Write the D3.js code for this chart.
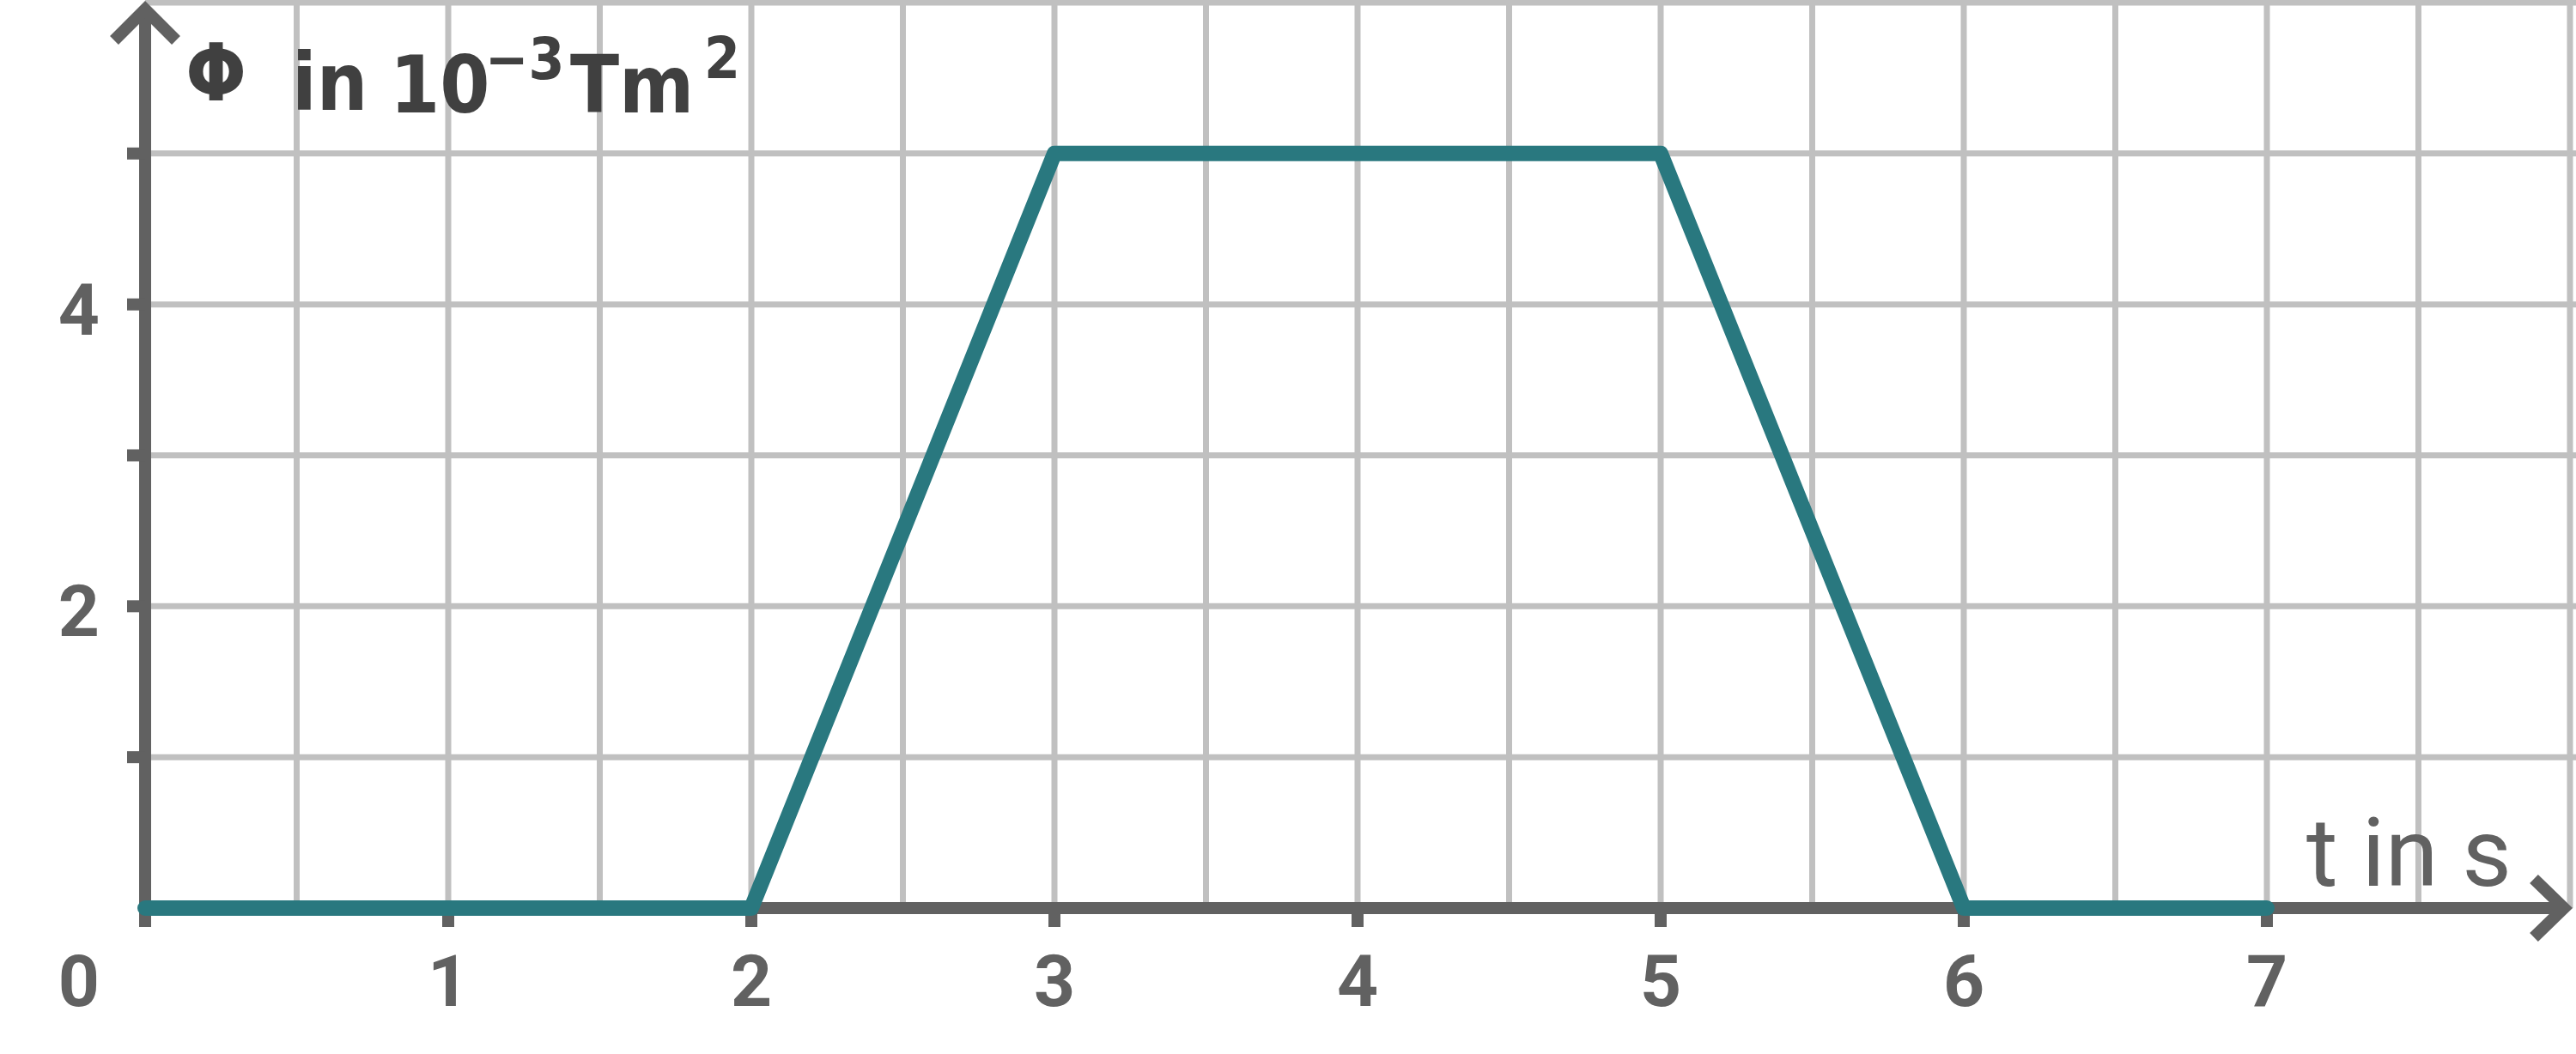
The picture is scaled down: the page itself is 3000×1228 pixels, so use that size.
<!DOCTYPE html>
<html>
<head>
<meta charset="utf-8">
<script src="https://cdn.jsdelivr.net/npm/d3@7"></script>
<style>
   html, body { margin: 0; padding: 0; background: #fff; }
   svg { display: block; }
</style>
</head>
<body>
<div id="chart"></div>
<script>
// flux over time
const tValues = [0, 2, 3, 5, 6, 7];
const phiValues = [0, 0, 5, 5, 0, 0];

const xTickValues = [1, 2, 3, 4, 5, 6, 7];
const xTickLabels = ['1', '2', '3', '4', '5', '6', '7'];
const yTickValues = [1, 2, 3, 4, 5];
const yTickLabels = ['', '2', '', '4', ''];
const originLabel = '0';
const xGridValues = d3.range(0.5, 8.01, 0.5);
const yGridValues = [1, 2, 3, 4, 5, 6];

const axisColor = '#616161';
const gridColor = '#c0c0c0';
const lineColor = '#29787f';

var width = 3000, height = 1228;

var svg = d3.select('#chart')
   .append('svg')
   .attr('width', width)
   .attr('height', height);

svg.append('rect')
   .attr('width', width)
   .attr('height', height)
   .attr('fill', '#fff');

var xScale = d3.scaleLinear()
   .domain([0, 8])
   .range([169, 2993]);

var yScale = d3.scaleLinear()
   .domain([0, 6])
   .range([1058, 3]);

// grid
svg.selectAll('line.vgrid')
   .data(xGridValues)
   .enter()
   .append('line')
   .attr('class', 'vgrid')
   .attr('x1', function (d) { return xScale(d); })
   .attr('x2', function (d) { return xScale(d); })
   .attr('y1', yScale(0))
   .attr('y2', 0)
   .attr('stroke', gridColor)
   .attr('stroke-width', 7);

svg.selectAll('line.hgrid')
   .data(yGridValues)
   .enter()
   .append('line')
   .attr('class', 'hgrid')
   .attr('x1', xScale(0))
   .attr('x2', width)
   .attr('y1', function (d) { return yScale(d); })
   .attr('y2', function (d) { return yScale(d); })
   .attr('stroke', gridColor)
   .attr('stroke-width', 7);

// axes
var axes = svg.append('g')
   .attr('stroke', axisColor)
   .attr('stroke-width', 14)
   .attr('fill', 'none');

axes.append('line')
   .attr('x1', xScale(0))
   .attr('x2', 2986)
   .attr('y1', yScale(0))
   .attr('y2', yScale(0));

axes.append('line')
   .attr('x1', xScale(0))
   .attr('x2', xScale(0))
   .attr('y1', yScale(0) + 22)
   .attr('y2', 14);

axes.append('path')
   .attr('d', 'M' + (xScale(0) - 36) + ',47L' + xScale(0) + ',11L' + (xScale(0) + 36) + ',47');

axes.append('path')
   .attr('d', 'M2951,' + (yScale(0) - 34) + 'L2986,' + yScale(0) + 'L2951,' + (yScale(0) + 34));

axes.selectAll('line.xtick')
   .data(xTickValues)
   .enter()
   .append('line')
   .attr('class', 'xtick')
   .attr('x1', function (d) { return xScale(d); })
   .attr('x2', function (d) { return xScale(d); })
   .attr('y1', yScale(0))
   .attr('y2', yScale(0) + 22);

axes.selectAll('line.ytick')
   .data(yTickValues)
   .enter()
   .append('line')
   .attr('class', 'ytick')
   .attr('x1', xScale(0))
   .attr('x2', xScale(0) - 21)
   .attr('y1', function (d) { return yScale(d); })
   .attr('y2', function (d) { return yScale(d); });

// the curve
var line = d3.line()
   .x(function (d) { return xScale(d[0]); })
   .y(function (d) { return yScale(d[1]); });

svg.append('path')
   .datum(d3.zip(tValues, phiValues))
   .attr('d', line)
   .attr('fill', 'none')
   .attr('stroke', lineColor)
   .attr('stroke-width', 18)
   .attr('stroke-linecap', 'round')
   .attr('stroke-linejoin', 'round');

// tick labels
var labels = svg.append('g')
   .attr('font-family', 'Roboto, "Liberation Sans", sans-serif')
   .attr('font-weight', 'bold')
   .attr('font-size', 84)
   .attr('fill', axisColor);

labels.selectAll('text.xlab')
   .data(xTickValues)
   .enter()
   .append('text')
   .attr('class', 'xlab')
   .attr('x', function (d) { return xScale(d); })
   .attr('y', 1172)
   .attr('text-anchor', 'middle')
   .text(function (d, i) { return xTickLabels[i]; });

labels.selectAll('text.ylab')
   .data(yTickValues)
   .enter()
   .append('text')
   .attr('class', 'ylab')
   .attr('x', 116)
   .attr('y', function (d) { return yScale(d) + 35; })
   .attr('text-anchor', 'end')
   .text(function (d, i) { return yTickLabels[i]; });

labels.append('text')
   .attr('x', 116)
   .attr('y', 1172)
   .attr('text-anchor', 'end')
   .text(originLabel);

// axis titles
svg.append('text')
   .attr('x', 2686)
   .attr('y', 1032)
   .attr('font-family', 'Roboto, "Liberation Sans", sans-serif')
   .attr('font-size', 112)
   .attr('fill', axisColor)
   .text('t in s');

var yTitle = svg.append('text')
   .attr('font-family', '"DejaVu Sans Condensed", "DejaVu Sans", sans-serif')
   .attr('font-weight', 'bold')
   .attr('font-stretch', 'condensed')
   .attr('font-size', 93)
   .attr('fill', '#404040');

yTitle.append('tspan').attr('x', 216).attr('y', 117).text('Φ');
yTitle.append('tspan').attr('x', 340).attr('y', 128).text('in');
yTitle.append('tspan').attr('x', 454).attr('y', 131).text('10');
yTitle.append('tspan').attr('x', 565).attr('y', 92).attr('font-size', 67).text('−3');
yTitle.append('tspan').attr('x', 664).attr('y', 131).text('Tm');
yTitle.append('tspan').attr('x', 820).attr('y', 91).attr('font-size', 67).text('2');
</script>
</body>
</html>
